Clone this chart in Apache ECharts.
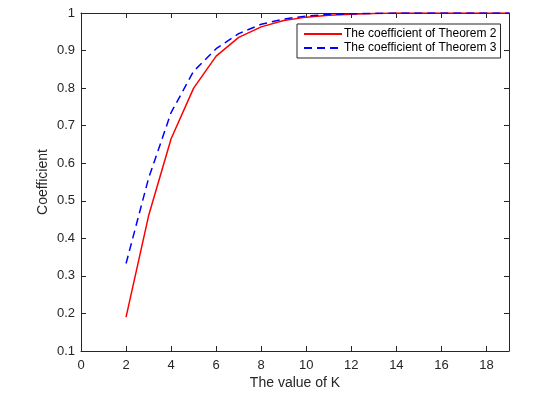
<!DOCTYPE html>
<html>
<head>
<meta charset="utf-8">
<script src="https://cdn.jsdelivr.net/npm/echarts@6/dist/echarts.min.js"></script>
<style>
  html, body { margin: 0; padding: 0; background: #fff; }
  #main { width: 556px; height: 393px; }
</style>
</head>
<body>
<div id="main"></div>
<script>
// K values and the two coefficient curves
var kValues = [2, 3, 4, 5, 6, 7, 8, 9, 10, 11, 12, 13, 14, 15, 16, 17, 18, 19];
var theorem2 = [0.19, 0.46, 0.665, 0.80, 0.885, 0.935, 0.963, 0.98, 0.989, 0.994, 0.997, 0.999, 1, 1, 1, 1, 1, 1];
var theorem3 = [0.333, 0.56, 0.735, 0.845, 0.905, 0.945, 0.97, 0.984, 0.992, 0.996, 0.998, 0.999, 1, 1, 1, 1, 1, 1];
var seriesNames = ['The coefficient of Theorem 2', 'The coefficient of Theorem 3'];

var axisColor = '#262626';
var fontFam = 'Liberation Sans, Arial, sans-serif';

function pairs(xs, ys) {
  return xs.map(function (x, i) { return [x, ys[i]]; });
}

// MATLAB style box: ticks inside on all four sides
function tickIn() {
  return { show: true, inside: true, length: 5, lineStyle: { color: axisColor, width: 1 } };
}
function axLine() {
  return { show: true, onZero: false, lineStyle: { color: axisColor, width: 1 } };
}

var chart = echarts.init(document.getElementById('main'));

var option = {
  animation: false,
  backgroundColor: '#fff',
  grid: { left: 81, right: 47, top: 13, bottom: 42, outerBoundsMode: 'none' },
  legend: {
    data: seriesNames,
    orient: 'vertical',
    left: 297,
    top: 24,
    padding: [4, 4, 4, 6],
    itemGap: 2,
    itemWidth: 38,
    itemHeight: 14,
    itemStyle: { opacity: 0 },
    backgroundColor: '#fff',
    borderColor: axisColor,
    borderWidth: 1,
    borderRadius: 0,
    textStyle: { color: '#000', fontSize: 12, fontFamily: fontFam, padding: [0, 0, 0, -3] }
  },
  xAxis: [{
    type: 'value', min: 0, max: 19, interval: 2,
    name: 'The value of K', nameLocation: 'middle', nameGap: 25, nameMoveOverlap: false,
    nameTextStyle: { color: axisColor, fontSize: 14, fontFamily: fontFam },
    axisLine: axLine(),
    axisTick: tickIn(),
    axisLabel: { color: axisColor, fontSize: 13, fontFamily: fontFam, margin: 8, showMaxLabel: false },
    splitLine: { show: false }
  }, {
    type: 'value', min: 0, max: 19, interval: 2, position: 'top',
    axisLine: axLine(),
    axisTick: tickIn(),
    axisLabel: { show: false },
    splitLine: { show: false }
  }],
  yAxis: [{
    type: 'value', min: 0.1, max: 1, interval: 0.1,
    name: 'Coefficient', nameLocation: 'middle', nameGap: 31, nameMoveOverlap: false,
    nameTextStyle: { color: axisColor, fontSize: 14, fontFamily: fontFam },
    axisLine: axLine(),
    axisTick: tickIn(),
    axisLabel: {
      color: axisColor, fontSize: 13, fontFamily: fontFam, margin: 6,
      formatter: function (v) { return Math.abs(v - 1) < 1e-9 ? '1' : v.toFixed(1); }
    },
    splitLine: { show: false }
  }, {
    type: 'value', min: 0.1, max: 1, interval: 0.1, position: 'right',
    axisLine: axLine(),
    axisTick: tickIn(),
    axisLabel: { show: false },
    splitLine: { show: false }
  }],
  series: [{
    name: seriesNames[0],
    type: 'line',
    data: pairs(kValues, theorem2),
    symbol: 'none',
    color: '#ff0000',
    lineStyle: { color: '#ff0000', width: 1.5 },
    z: 3
  }, {
    name: seriesNames[1],
    type: 'line',
    data: pairs(kValues, theorem3),
    symbol: 'none',
    color: '#0000ff',
    lineStyle: { color: '#0000ff', width: 1.5, type: [8, 5] },
    z: 4
  }]
};

chart.setOption(option);
</script>
</body>
</html>
